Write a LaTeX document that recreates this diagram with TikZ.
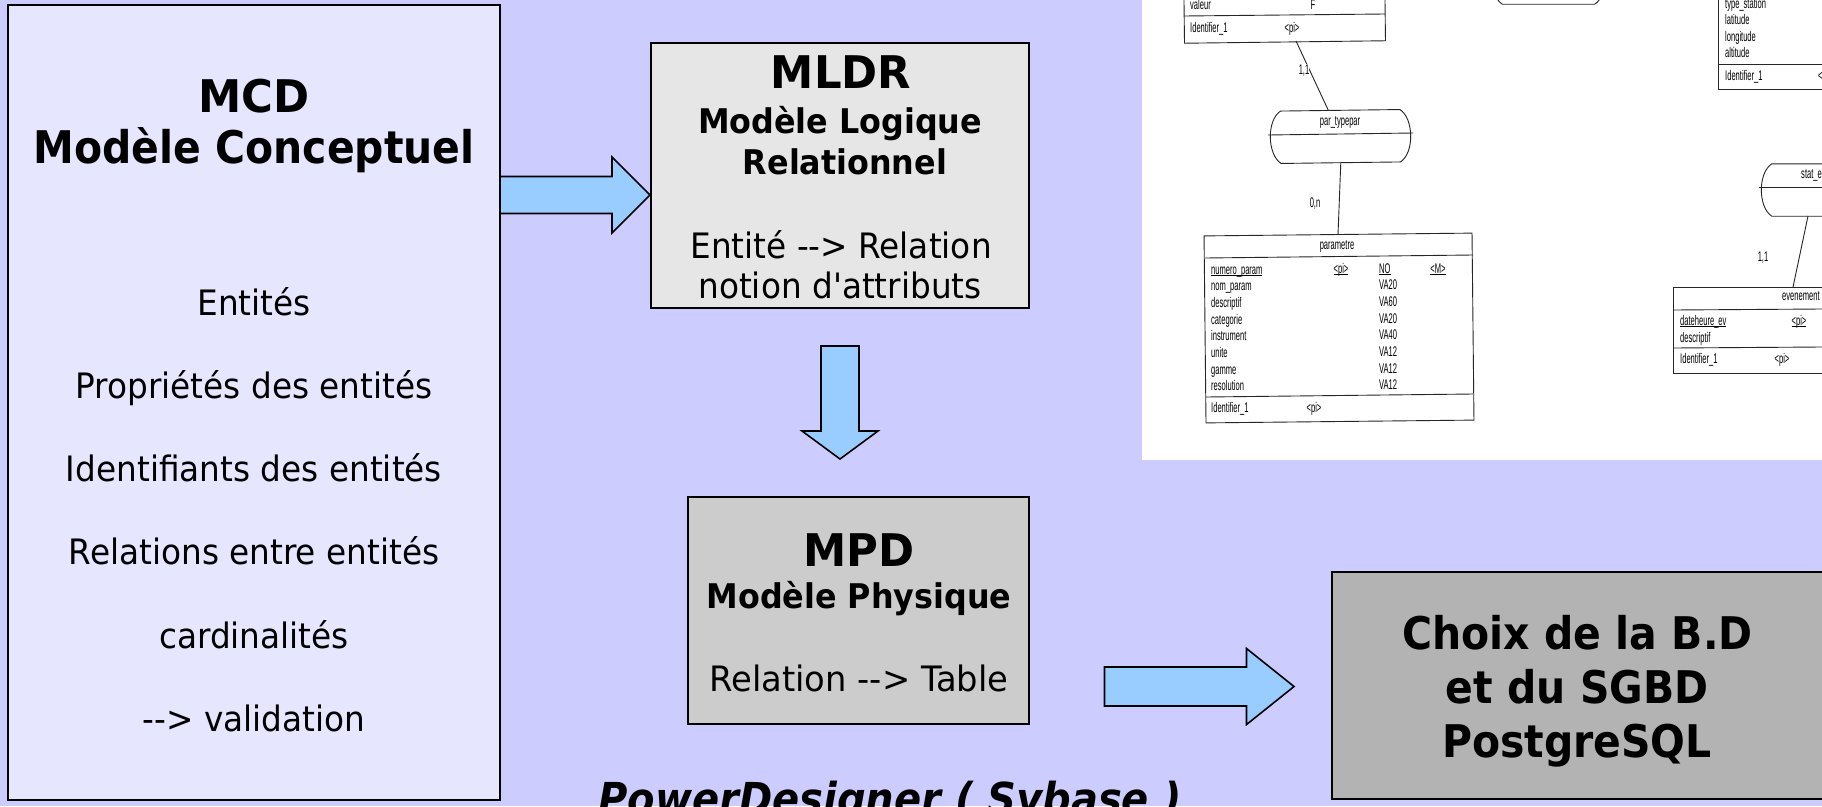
\documentclass[tikz,border=0pt]{standalone}
\usepackage{fontspec}
\usetikzlibrary{calc}
\newfontfamily\hdfont[FakeStretch=0.91]{DejaVu Sans}
\newfontfamily\capfont[FakeStretch=0.965]{DejaVu Sans}
\newfontfamily\midfont[FakeStretch=0.935]{DejaVu Sans}
\newfontfamily\widefont[FakeStretch=0.965]{DejaVu Sans}
\newfontfamily\scanfont[FakeStretch=0.54]{Liberation Sans}
\definecolor{bgc}{HTML}{CCCCFF}
\definecolor{mcdc}{HTML}{E6E6FF}
\definecolor{mldrc}{HTML}{E6E6E6}
\definecolor{mpdc}{HTML}{CCCCCC}
\definecolor{choixc}{HTML}{B3B3B3}
\definecolor{arrowc}{HTML}{99CCFF}
\definecolor{inkc}{HTML}{262626}
\newcommand\ulin[1]{\setbox0\hbox{#1}\rlap{\rule[-1.7pt]{\wd0}{0.7pt}}\box0\relax}
\newcommand\assocpath[1]{%
  \draw[scanline,fill=white]
    ($(#1.north west)+(13,0)$) -- ($(#1.north east)+(-13,0)$)
    .. controls ($(#1.north east)+(1,9)$) and ($(#1.south east)+(1,-9)$) .. ($(#1.south east)+(-13,0)$)
    -- ($(#1.south west)+(13,0)$)
    .. controls ($(#1.south west)+(-1,-9)$) and ($(#1.north west)+(-1,9)$) .. cycle;}
\tikzset{
  box/.style={draw=black,line width=2pt,inner sep=0pt,rectangle},
  bigarrow/.style={draw=black,line width=1.6pt,fill=arrowc,line join=miter},
  txt/.style={anchor=base,inner sep=0pt,text=black},
  hbig/.style={txt,font=\hdfont\bfseries\fontsize{45}{45}\selectfont},
  hcap/.style={txt,font=\capfont\bfseries\fontsize{45}{45}\selectfont},
  hmid/.style={txt,font=\midfont\bfseries\fontsize{34}{34}\selectfont},
  body/.style={txt,font=\midfont\fontsize{35}{35}\selectfont},
  scanline/.style={draw=inkc,line width=0.9pt},
  scanbox/.style={scanline,inner sep=0pt,rectangle,fill=white},
  assocbox/.style={inner sep=0pt,rectangle},
  st/.style={inner sep=0pt,text=black,font=\scanfont\fontsize{14}{14}\selectfont},
  sl/.style={st,anchor=base west},
  sc/.style={st,anchor=base},
}
\begin{document}
\begin{tikzpicture}[x=1pt,y=-1pt]
\useasboundingbox (0,0) rectangle (1822,806);
\fill[bgc] (0,0) rectangle (1822,806);

% scanned model
\fill[white] (1142,0) rectangle (1822,460);

\node[scanbox,minimum width=201,minimum height=80,rotate=0.7] (donnee) at (1284.5,2) {};
\draw[scanline] (1184,16) -- (1385,14);
\node[sl] (t1a) at (1190,9) {valeur};
\node[sc] (t1b) at (1313,9) {F};
\node[sl] (t1c) at (1190,32) {Identifier\_1};
\node[sc] (t1d) at (1292,32) {<pi>};

\node[assocbox,minimum width=145,minimum height=52,rotate=0.6] (par) at (1340.5,136.5) {};
\assocpath{par}
\draw[scanline] (1268,135) -- (1413,133);
\node[sc] (part) at (1340,125) {par\_typepar};
\coordinate (c1) at (1296,41);
\draw[scanline] (c1) -- (par);

\node[scanbox,minimum width=268,minimum height=187,rotate=0.6] (param) at (1339,328) {};
\draw[scanline] (1205,258) -- (1473,255);
\draw[scanline] (1206,397) -- (1473,394);
\draw[scanline] (par.south) -- (param.north);
\node[st,fill=white,anchor=center,inner ysep=1pt] (l11) at (1304,71) {1,1};
\node[st,anchor=center] (l0n) at (1315,204) {0,n};
\node[sc] (pt) at (1337,249) {parametre};
\node[sl] (p1) at (1211,274) {\ulin{numero\_param}};
\node[sl] (p2) at (1211,290) {nom\_param};
\node[sl] (p3) at (1211,307) {descriptif};
\node[sl] (p4) at (1211,324) {categorie};
\node[sl] (p5) at (1211,340) {instrument};
\node[sl] (p6) at (1211,357) {unite};
\node[sl] (p7) at (1211,374) {gamme};
\node[sl] (p8) at (1211,390) {resolution};
\node[sc] (q1) at (1341,273) {\ulin{<pi>}};
\node[sl] (v1) at (1379,273) {\ulin{NO}};
\node[sc] (m1) at (1438,273) {\ulin{<M>}};
\node[sl] (v2) at (1379,289) {VA20};
\node[sl] (v3) at (1379,306) {VA60};
\node[sl] (v4) at (1379,323) {VA20};
\node[sl] (v5) at (1379,339) {VA40};
\node[sl] (v6) at (1379,356) {VA12};
\node[sl] (v7) at (1379,373) {VA12};
\node[sl] (v8) at (1379,389) {VA12};
\node[sl] (p9) at (1211,412) {Identifier\_1};
\node[sc] (q2) at (1314,412) {<pi>};

\node[assocbox,minimum width=118,minimum height=52] (assoc) at (1548.5,-22) {};
\assocpath{assoc}

\node[scanbox,minimum width=160,minimum height=120] (station) at (1798,29) {};
\draw[scanline] (1718,64) -- (1822,64);
\node[sl] (s1) at (1725,8) {type\_station};
\node[sl] (s2) at (1725,24.5) {latitude};
\node[sl] (s3) at (1725,41) {longitude};
\node[sl] (s4) at (1725,57.5) {altitude};
\node[sl] (s5) at (1725,80) {Identifier\_1};
\node[sl] (s6) at (1818,80) {<pi>};

\node[assocbox,minimum width=120,minimum height=52] (stat) at (1819,190) {};
\assocpath{stat}
\draw[scanline] (1759,187) -- (1822,187);
\node[sl] (st1) at (1801,178) {stat\_ev};
\coordinate (c2) at (1808,216);
\coordinate (c3) at (1793,287);
\draw[scanline] (c2) -- (c3);
\node[st,anchor=center] (l11b) at (1763,258) {1,1};

\node[scanbox,minimum width=220,minimum height=86] (even) at (1783,330) {};
\draw[scanline] (1673,310) -- (1822,309);
\draw[scanline] (1673,348) -- (1822,347);
\node[sl] (e0) at (1782,300) {evenement};
\node[sl] (e1) at (1680,325) {\ulin{dateheure\_ev}};
\node[sc] (e2) at (1799,325) {\ulin{<pi>}};
\node[sl] (e3) at (1680,342) {descriptif};
\node[sl] (e4) at (1680,363) {Identifier\_1};
\node[sc] (e5) at (1782,363) {<pi>};

% boxes
\node[box,fill=mcdc,minimum width=492,minimum height=795] (mcd) at (254,402.5) {};
\node[box,fill=mldrc,minimum width=378,minimum height=265] (mldr) at (840,175.5) {};
\node[box,fill=mpdc,minimum width=341,minimum height=227] (mpd) at (858.5,610.5) {};
\node[box,fill=choixc,minimum width=568,minimum height=227] (choix) at (1616,685.5) {};

% block arrows
\coordinate (a1s) at (mcd.east |- 0,195);
\coordinate (a1t) at (mldr.west |- 0,195);
\draw[bigarrow] ($(a1s)+(0,-18.5)$) -- ($(a1t)+(-38,-18.5)$) -- ($(a1t)+(-38,-38)$) -- (a1t)
  -- ($(a1t)+(-38,38)$) -- ($(a1t)+(-38,18.5)$) -- ($(a1s)+(0,18.5)$);
\coordinate (a2s) at (840,346);
\coordinate (a2t) at (840,459);
\draw[bigarrow] ($(a2s)+(-19,0)$) -- ($(a2t)+(-19,-28)$) -- ($(a2t)+(-38,-28)$) -- (a2t)
  -- ($(a2t)+(38,-28)$) -- ($(a2t)+(19,-28)$) -- ($(a2s)+(19,0)$) -- cycle;
\coordinate (a3s) at (1104.5,686.5);
\coordinate (a3t) at (1294,686.5);
\draw[bigarrow] ($(a3s)+(0,-19.5)$) -- ($(a3t)+(-47.5,-19.5)$) -- ($(a3t)+(-47.5,-38)$) -- (a3t)
  -- ($(a3t)+(-47.5,38)$) -- ($(a3t)+(-47.5,19.5)$) -- ($(a3s)+(0,19.5)$) -- cycle;

% MCD text
\node[hcap] (t01) at (254,112) {MCD};
\node[hbig] (t02) at (254,163) {Modèle Conceptuel};
\node[body] (t03) at (254,315) {Entités};
\node[body] (t04) at (254,398) {Propriétés des entités};
\node[body] (t05) at (254,481) {Identifiants des entités};
\node[body] (t06) at (254,564.5) {Relations entre entités};
\node[body] (t07) at (254,648) {cardinalités};
\node[body] (t08) at (254,731) {-{}-> validation};
% MLDR text
\node[hcap] (t11) at (841,88) {MLDR};
\node[hmid] (t12) at (840,133) {Modèle Logique};
\node[hmid] (t13) at (845,174) {Relationnel};
\node[body] (t14) at (841,258) {Entité -{}-> Relation};
\node[body] (t15) at (840,298) {notion d'attributs};
% MPD text
\node[hcap] (t21) at (859,566) {MPD};
\node[hmid] (t22) at (859,608) {Modèle Physique};
\node[txt,font=\widefont\fontsize{35}{35}\selectfont] (t23) at (859,691) {Relation -{}-> Table};
% Choix text
\node[hbig] (t31) at (1577.5,649) {Choix de la B.D};
\node[hbig] (t32) at (1577,703) {et du SGBD};
\node[hbig] (t33) at (1577,757) {PostgreSQL};
% tool
\node[txt,font=\hdfont\bfseries\itshape\fontsize{44}{44}\selectfont] (t41) at (890,814) {PowerDesigner ( Sybase )};
\end{tikzpicture}
\end{document}
